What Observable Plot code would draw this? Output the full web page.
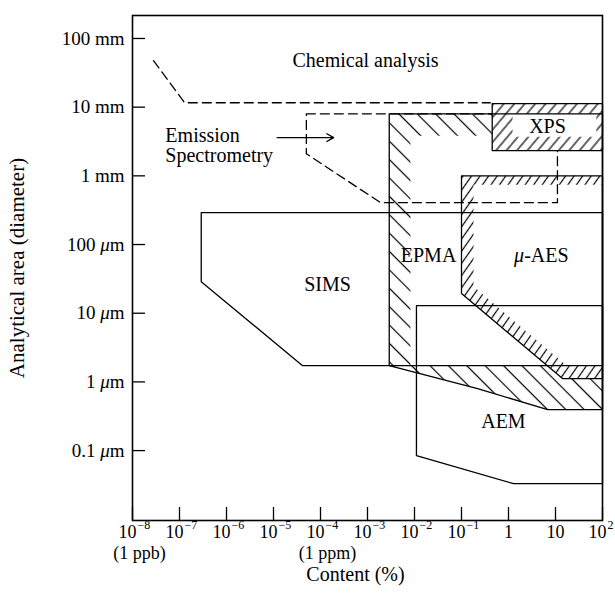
<!DOCTYPE html>
<html><head><meta charset="utf-8">
<script src="https://cdn.jsdelivr.net/npm/d3@7"></script>
<script src="https://cdn.jsdelivr.net/npm/@observablehq/plot@0.6"></script>
<style>body{margin:0;background:#fff} svg{display:block}</style>
</head><body><div id="chart"></div>
<script>
// axis ticks (content in %, analytical area in µm)
const xTickValues = [1e-8,1e-7,1e-6,1e-5,1e-4,1e-3,1e-2,1e-1,1,10,100];
const yTickValues = [0.1,1,10,100,1e3,1e4,1e5];
const yTickLabels = ["0.1 μm","1 μm","10 μm","100 μm","1 mm","10 mm","100 mm"];
const xSubLabels = [{x:1e-8, text:"(1 ppb)"},{x:1e-4, text:"(1 ppm)"}];

// region outlines: [content %, diameter µm]
const chemicalAnalysis = [[2.8e-8,4.75e4],[1.28e-7,1.16e4],[0.41,1.16e4]];
const emission = [[5e-5,8000],[11,8000],[11,407],[1.9e-3,407],[5e-5,2100]];
const emissionArrow = [{x1:1.2e-5, x2:1.9e-4, y:3600}];
const sims = [[2.9e-7,291],[100,291],[100,1.73],[4.1e-5,1.73],[2.9e-7,28.8]];
const epma = [[2.9e-3,8000],[100,8000],[100,0.395],[6.8,0.395],[0.22,0.8],[2.9e-3,1.73]];
const epmaInner = [[8.2e-3,3850],[100,3850],[100,1.73],[8.2e-3,1.73]];
const aes = [[0.1,1000],[100,1000],[100,1.12],[14.1,1.12],[0.1,19.3]];
const aesInner = [[0.18,745],[100,745],[100,1.73],[17.1,1.73],[0.18,24.4]];
const xps = [[0.45,11250],[100,11250],[100,2330],[0.45,2330]];
const xpsInner = [[1.22,8000],[74,8000],[74,3720],[1.22,3720]];
const aem = [[0.011,12.9],[100,12.9],[100,0.033],[1.28,0.033],[0.011,0.0846]];

const regionLabels = [
  {text:"Chemical analysis", x:9.05e-4, y:4.75e4},
  {text:"XPS", x:6.76, y:5200},
  {text:"EPMA", x:0.0199, y:68.9},
  {text:"μ-AES", x:5.0, y:68.9},
  {text:"SIMS", x:1.41e-4, y:26.1},
  {text:"AEM", x:0.78, y:0.264}
];
const emissionLabel = [{text:"Emission\nSpectrometry", x:5.0e-8, y:2750}];
const yTitle = ["Analytical area (diameter)"];
const xTitle = [{text:"Content (%)", x:5.56e-4}];

const X = d => d[0], Y = d => d[1];
const poly = (data, opts) => Plot.line(data, {x: X, y: Y, curve: "linear-closed", ...opts});
const outline = {stroke: "black", strokeWidth: 1.3, fill: "none"};
const exp = d => Math.round(Math.log10(d));
const withExp = xTickValues.filter(d => exp(d) < 0 || exp(d) > 1);
const plain = xTickValues.filter(d => exp(d) === 0 || exp(d) === 1);
const supText = n => (n < 0 ? "\u2212" + (-n) : String(n));

const chart = Plot.plot({
  width: 615, height: 596,
  marginLeft: 132, marginRight: 13, marginTop: 15, marginBottom: 76,
  style: {fontFamily: "'Liberation Serif', 'Times New Roman', serif", fontSize: "20px", color: "black", background: "white"},
  x: {type: "log", domain: [1e-8, 100], axis: null},
  y: {type: "log", domain: [0.0096, 2.16e5], axis: null},
  marks: [
    // hatched bands
    poly(epma, {fill: "url(#hatchE)", stroke: "none"}),
    poly(epmaInner, {fill: "white", stroke: "none"}),
    poly(aes, {fill: "url(#hatchA)", stroke: "none"}),
    poly(aesInner, {fill: "white", stroke: "none"}),
    poly(emission, {stroke: "black", strokeWidth: 1.3, strokeDasharray: "9,5", fill: "none"}),
    Plot.line(chemicalAnalysis, {x: X, y: Y, stroke: "black", strokeWidth: 1.3, strokeDasharray: "9,5"}),
    poly(xps, {fill: "url(#hatchX)", stroke: "none"}),
    poly(xpsInner, {fill: "white", stroke: "none"}),
    // outlines
    poly(sims, outline),
    poly(aem, outline),
    poly(aes, outline),
    poly(xps, outline),
    poly(epma, outline),
    Plot.arrow(emissionArrow, {x1: "x1", x2: "x2", y1: "y", y2: "y", stroke: "black", strokeWidth: 1.3, headLength: 9}),
    // frame and inward ticks
    Plot.frame({stroke: "black", strokeWidth: 1.6}),
    Plot.tickX(xTickValues, {x: d => d, insetTop: 492, stroke: "black", strokeWidth: 1.3}),
    Plot.tickY(yTickValues, {y: d => d, insetRight: 457, stroke: "black", strokeWidth: 1.3}),
    // tick labels
    Plot.text(yTickValues, {y: d => d, text: (d, i) => yTickLabels[i], frameAnchor: "left", textAnchor: "end", lineAnchor: "middle", dx: -8, fontSize: 19}),
    Plot.text(withExp, {x: d => d, text: () => "10", frameAnchor: "bottom", textAnchor: "end", lineAnchor: "middle", dx: 4, dy: 12, fontSize: 18}),
    Plot.text(withExp, {x: d => d, text: d => supText(exp(d)), frameAnchor: "bottom", textAnchor: "start", lineAnchor: "middle", dx: 5, dy: 5, fontSize: 12}),
    Plot.text(plain, {x: d => d, text: d => String(d), frameAnchor: "bottom", textAnchor: "middle", lineAnchor: "middle", dy: 12, fontSize: 18}),
    Plot.text(xSubLabels, {x: "x", text: "text", frameAnchor: "bottom", textAnchor: "middle", lineAnchor: "middle", dx: 7, dy: 33, fontSize: 18}),
    // titles and labels
    Plot.text(yTitle, {text: d => d, frameAnchor: "left", textAnchor: "middle", lineAnchor: "middle", dx: -115, rotate: -90, fontSize: 21}),
    Plot.text(xTitle, {x: "x", text: "text", frameAnchor: "bottom", textAnchor: "middle", lineAnchor: "middle", dy: 54, fontSize: 20}),
    Plot.text(regionLabels, {x: "x", y: "y", text: "text", fontSize: 20}),
    Plot.text(emissionLabel, {x: "x", y: "y", text: "text", textAnchor: "start", lineHeight: 1.0, fontSize: 20})
  ]
});

// hatch patterns
const svg = d3.select(chart);
const defs = svg.insert("defs", ":first-child");
function hatch(id, spacing, angle, bg) {
  const p = defs.append("pattern").attr("id", id).attr("patternUnits", "userSpaceOnUse")
    .attr("width", spacing).attr("height", 10).attr("patternTransform", `rotate(${angle})`);
  if (bg) p.append("rect").attr("width", spacing).attr("height", 10).attr("fill", bg);
  p.append("line").attr("x1", spacing / 2).attr("x2", spacing / 2).attr("y1", -1).attr("y2", 11)
    .attr("stroke", "black").attr("stroke-width", 1.2);
}
hatch("hatchE", 13, -45, null);
hatch("hatchA", 7, 35, "white");
hatch("hatchX", 8, 40, "white");

// italic µ
svg.selectAll("text").each(function () {
  const t = this.textContent;
  if (this.childElementCount === 0 && t.includes("μ")) {
    const s = d3.select(this);
    const parts = t.split("μ");
    s.text(null);
    parts.forEach((p, i) => {
      if (i > 0) s.append("tspan").attr("font-style", "italic").text("μ");
      if (p) s.append("tspan").text(p);
    });
  }
});

document.getElementById("chart").append(chart);
</script>
</body></html>
